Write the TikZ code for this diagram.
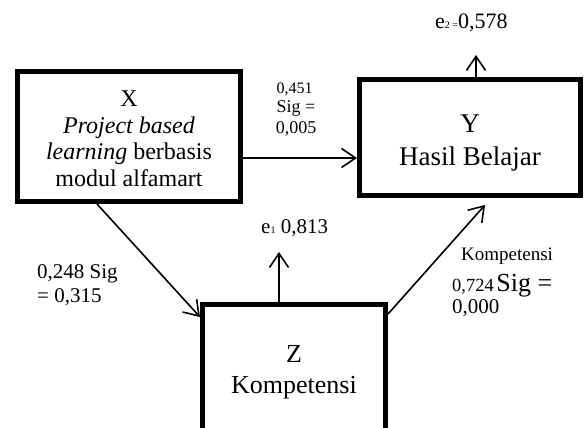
\documentclass[tikz,border=0pt]{standalone}
\usepackage{fontspec}
\setmainfont{Liberation Serif}
\usetikzlibrary{arrows.meta}
\begin{document}
\begin{tikzpicture}[x=1pt,y=-1pt,
  box/.style={draw,line width=5pt,inner sep=0pt},
  boxtext/.style={align=center,inner sep=0pt},
  lbl/.style={inner sep=0pt},
  conn/.style={line width=1.6pt,-{Straight Barb[length=14pt,width=19pt]}}]
\clip (0,0) rectangle (584,428);
\fill[white] (0,0) rectangle (584,428);
% boxes
\node[box,minimum width=223pt,minimum height=130pt] (X) at (129,136.5) {};
\node[box,minimum width=221pt,minimum height=116pt] (Y) at (470,137.5) {};
\node[box,minimum width=183pt,minimum height=160pt] (Z) at (294,384.5) {};
% box texts
\node[boxtext,font=\fontsize{24}{26.5}\selectfont] (Xt) at (129,138.7) {X\\\textit{Project based}\\\textit{learning} berbasis\\modul alfamart};
\node[boxtext,font=\fontsize{27}{33}\selectfont] (Yt) at (470,143.4) {Y\\Hasil Belajar};
\node[boxtext,font=\fontsize{26}{31}\selectfont] (Zt) at (294,372) {Z\\Kompetensi};
% labels
\node[lbl,anchor=base,font=\fontsize{16}{16}\selectfont] (l1) at (294.5,93) {0,451};
\node[lbl,anchor=base,font=\fontsize{18}{18}\selectfont] (l2) at (296,113) {Sig =};
\node[lbl,anchor=base,font=\fontsize{18}{18}\selectfont] (l3) at (296,133) {0,005};
\node[lbl,anchor=base west,font=\fontsize{22}{22}\selectfont] (e2) at (435,29) {e{\fontsize{10}{10}\selectfont 2 =}0,578};
\node[lbl,anchor=base west,font=\fontsize{21}{21}\selectfont] (e1) at (261,233) {e{\fontsize{10}{10}\selectfont 1} 0,813};
\node[lbl,anchor=base west,font=\fontsize{21}{21}\selectfont] (l4) at (37,278) {0,248 Sig};
\node[lbl,anchor=base west,font=\fontsize{21}{21}\selectfont] (l5) at (37,302) {= 0,315};
\node[lbl,anchor=base west,font=\fontsize{19}{19}\selectfont] (l6) at (461,260) {Kompetensi};
\node[lbl,anchor=base west] (l7) at (452,291) {{\fontsize{18.5}{18.5}\selectfont 0,724} {\fontsize{26}{26}\selectfont Sig =}};
\node[lbl,anchor=base west,font=\fontsize{21}{21}\selectfont] (l8) at (452,313) {0,000};
% connectors
\coordinate (e1tip) at (279,252);
\coordinate (e2tip) at (476,55);
\draw[conn] ([yshift=-21.5pt]X.east) -- ([yshift=-20.5pt]Y.west);
\draw[conn] ([xshift=-32pt]X.south) -- ([yshift=-15pt]Z.north west);
\draw[conn] ([yshift=-12pt]Z.north east) -- ([xshift=15pt,yshift=-7pt]Y.south);
\draw[conn] ([xshift=-15pt]Z.north) -- (e1tip);
\draw[conn] ([xshift=6pt]Y.north) -- (e2tip);
\end{tikzpicture}
\end{document}
